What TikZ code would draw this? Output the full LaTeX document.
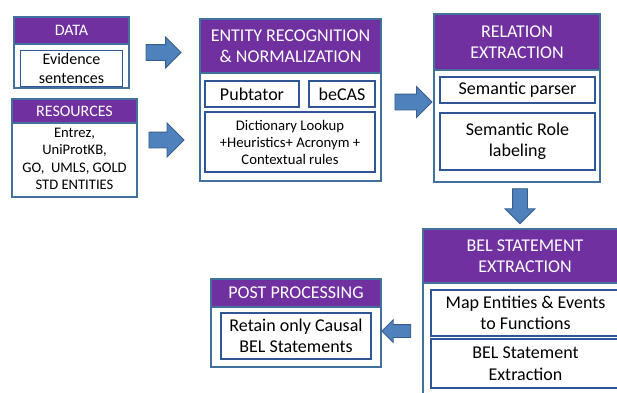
\documentclass[tikz,border=0pt]{standalone}
\usepackage{fontspec}
\setmainfont{Carlito}
\usepackage{tikz}
\usetikzlibrary{positioning, shapes.arrows}
\usepackage{xcolor}
\definecolor{Purple}{HTML}{7030A0}
\definecolor{EdgeBlue}{HTML}{41719C}
\definecolor{DeepBlue}{HTML}{2F5597}
\definecolor{ArrowBlue}{HTML}{4F81BD}
\definecolor{ArrowEdge}{HTML}{385D8A}
\newcommand{\bigtext}{\fontsize{18}{21.5}\selectfont}
\newcommand{\midtext}{\fontsize{16}{19.5}\selectfont}
\newcommand{\smalltext}{\fontsize{14.6}{17.5}\selectfont}
\tikzset{%
  panel_box/.style={%
    rectangle,%
    draw=EdgeBlue,%
    line width=1.2pt,%
    fill=white,%
    inner sep=0pt%
  },
  panel_head/.style={%
    rectangle,%
    draw=EdgeBlue,%
    line width=1.2pt,%
    fill=Purple,%
    text=white,%
    font={\bigtext},%
    align=center,%
    anchor=north,%
    inner sep=0pt%
  },
  item_box/.style={%
    rectangle,%
    draw=DeepBlue,%
    line width=1.5pt,%
    font={\bigtext},%
    align=center,%
    inner sep=0pt%
  },
  block_arrow/.style={%
    single arrow,%
    draw=ArrowEdge,%
    fill=ArrowBlue,%
    line width=0.8pt,%
    inner xsep=0pt,%
    inner ysep=7.5pt,%
    minimum height=35pt,%
    single arrow head extend=7.5pt%
  },
}

\begin{document}
\begin{tikzpicture}[x=1pt, y=-1pt]

    \useasboundingbox (0,0) rectangle (617,392);
    \clip (0,0) rectangle (617,392);

    % data and resources
    \node [panel_box, minimum width=115pt, minimum height=71pt] (Data) at (71.5,52.5) {};
    \node [panel_head, font={\midtext}, minimum width=115pt, minimum height=27pt] (DataHead) at (Data.north) {DATA};
    \node [item_box, font={\midtext}, minimum width=102pt, minimum height=36pt, below = 5pt of DataHead] (Evidence) {Evidence\\sentences};

    \node [panel_box, minimum width=125pt, minimum height=98pt] (Resources) at (74.5,148) {};
    \node [panel_head, font={\midtext}, minimum width=125pt, minimum height=24pt] (ResourcesHead) at (Resources.north) {RESOURCES};
    \node [font={\smalltext}, align=center, inner sep=0pt] (ResourcesList) at (74.5,159) {Entrez,\\UniProtKB,\\GO,~~UMLS, GOLD\\STD ENTITIES};

    % entity recognition
    \node [panel_box, minimum width=181pt, minimum height=162pt] (Entity) at (290.5,100) {};
    \node [panel_head, minimum width=181pt, minimum height=54pt] (EntityHead) at (Entity.north) {ENTITY RECOGNITION\\\& NORMALIZATION};
    \node [item_box, minimum width=94pt, minimum height=26pt] (Pubtator) at (252,94) {Pubtator};
    \node [item_box, minimum width=66pt, minimum height=26pt] (Becas) at (342,94) {beCAS};
    \node [item_box, font={\fontsize{14.7}{17}\selectfont}, minimum width=170pt, minimum height=60pt] (Dictionary) at (290,142) {Dictionary Lookup\\+Heuristics+ Acronym +\\Contextual rules};

    % relation extraction
    \node [panel_box, minimum width=166pt, minimum height=168pt] (Relation) at (517,98) {};
    \node [panel_head, minimum width=166pt, minimum height=56pt] (RelationHead) at (Relation.north) {RELATION\\EXTRACTION};
    \node [item_box, minimum width=155pt, minimum height=26pt] (Parser) at (517.5,90) {Semantic parser};
    \node [item_box, minimum width=155pt, minimum height=57pt] (Role) at (517.5,141.5) {Semantic Role\\labeling};

    % bel statements
    \node [panel_box, minimum width=204pt, minimum height=171pt] (Bel) at (525,314.5) {};
    \node [panel_head, minimum width=204pt, minimum height=54pt] (BelHead) at (Bel.north) {BEL STATEMENT\\EXTRACTION};
    \node [item_box, minimum width=189pt, minimum height=46pt] (MapFunc) at (525.5,313) {Map Entities \& Events\\to Functions};
    \node [item_box, minimum width=189pt, minimum height=49pt] (BelStmt) at (525.5,363.5) {BEL Statement\\Extraction};

    % post processing
    \node [panel_box, minimum width=170pt, minimum height=88pt] (Post) at (296,323) {};
    \node [panel_head, minimum width=170pt, minimum height=28pt] (PostHead) at (Post.north) {POST PROCESSING};
    \node [item_box, minimum width=150pt, minimum height=46pt] (Retain) at (296,336) {Retain only Causal\\BEL Statements};

    % block arrows
    \node [block_arrow, right = 16pt of Data] (DataArrow) {};
    \node [block_arrow, single arrow head extend=9pt] (ResourcesArrow) at (162.5,140) {};
    \node [block_arrow, minimum height=37pt] (EntityArrow) at (409.5,102) {};
    \node [block_arrow, rotate=-90, inner ysep=7pt] (RelationArrow) at (520,202.5) {};
    \node [block_arrow, rotate=180, minimum height=29pt, inner ysep=6pt, single arrow head extend=5pt] (BelArrow) at (399.5,331) {};
  \end{tikzpicture}
\end{document}
